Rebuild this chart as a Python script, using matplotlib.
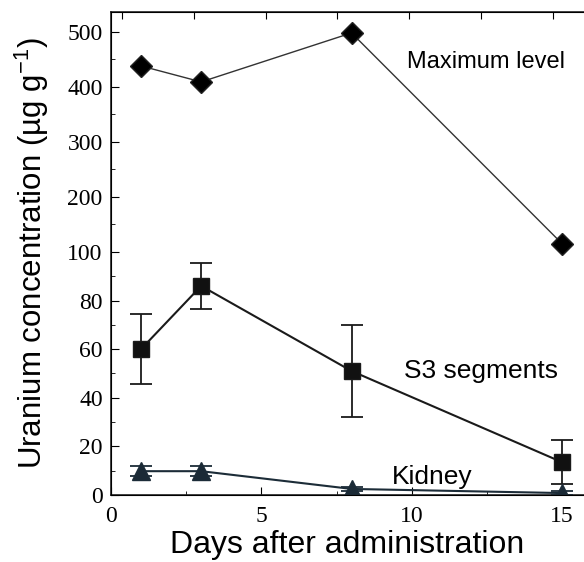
import numpy as np
import matplotlib
matplotlib.use('Agg')
from matplotlib import pyplot as plt

# Define data.
days = [1, 3, 8, 15]
max_level = [438, 409, 498, 115]
s3_mean = [60, 86, 51, 13.5]
s3_err = [14.5, 9.5, 19, 9]
kidney_mean = [9.8, 9.8, 2.5, 0.8]
kidney_err = [2, 2, 1, 1]

# Broken y scale: 0-100 linear, above 100 compressed.
ratio = 0.2263


def forward(y):
    y = np.asarray(y, dtype=float)
    return np.where(y <= 100, y, 100 + (y - 100) * ratio)


def inverse(t):
    t = np.asarray(t, dtype=float)
    return np.where(t <= 100, t, 100 + (t - 100) / ratio)


fig = plt.figure(figsize=(5.84, 5.62), dpi=100)
ax = fig.add_axes([0.19, 0.1192, 0.81, 0.8594])
ax.set_yscale('function', functions=(forward, inverse))

# Make plot.
ax.plot(days, max_level, color='#333333', linewidth=1.0, marker='D',
        markersize=11, markerfacecolor='black', markeredgecolor='#222222',
        zorder=3)
ax.errorbar(days, s3_mean, yerr=s3_err, color='#1a1a1a', linewidth=1.5,
            marker='s', markersize=12, markerfacecolor='#111111',
            capsize=8, elinewidth=1.3, capthick=1.3, zorder=3)
ax.errorbar(days, kidney_mean, yerr=kidney_err, color='#1c2c38',
            linewidth=1.5, marker='^', markersize=13,
            markerfacecolor='#1b2a36', capsize=8, elinewidth=1.3,
            capthick=1.3, zorder=3)

# Labels for the curves.
sans = 'Liberation Sans'
ax.text(9.83, 445, 'Maximum level', fontsize=17, family=sans,
        ha='left', va='center')
ax.text(9.73, 51, 'S3 segments', fontsize=19, family=sans,
        ha='left', va='center')
ax.text(9.33, 7.5, 'Kidney', fontsize=19, family=sans,
        ha='left', va='center')

# Customize axes.
ax.set_xlim(0, 15.73)
ax.set_ylim(0, 536)
ax.set_xticks([0, 5, 10, 15])
ax.set_xticks([2.5, 7.5, 12.5], minor=True)
ax.set_yticks([0, 20, 40, 60, 80, 100, 200, 300, 400, 500])
ax.set_yticks([10, 30, 50, 70, 90, 150, 250, 350, 450], minor=True)
ax.set_yticklabels(['0', '20', '40', '60', '80', '100', '200', '300',
                    '400', '500'])
ax.tick_params(axis='both', which='both', direction='in')
ax.tick_params(axis='both', which='major', length=6, labelsize=17)
ax.tick_params(axis='x', which='major', pad=8)
ax.tick_params(axis='y', which='major', pad=6)
ax.tick_params(axis='both', which='minor', length=3)
for label in ax.get_xticklabels() + ax.get_yticklabels():
    label.set_family('Liberation Serif')
ax.spines['right'].set_visible(False)
for side in ['left', 'bottom', 'top']:
    ax.spines[side].set_linewidth(1.2)
    ax.spines[side].set_color('#222222')

# Ticks on top edge.
top = ax.twiny()
top.set_xlim(ax.get_xlim())
top.set_xticks([0.37, 2.77, 5.17, 7.53, 9.9, 12.3, 14.7])
top.tick_params(axis='x', direction='in', length=5, labeltop=False)
top.spines['right'].set_visible(False)

ax.set_xlabel('Days after administration', fontsize=23, family=sans,
              labelpad=2)
ax.set_ylabel('Uranium concentration (\u00b5g g$^{\\mathregular{-1}}$)',
              fontsize=22.5, family=sans, labelpad=12)

fig.savefig('out.png', dpi=100)
